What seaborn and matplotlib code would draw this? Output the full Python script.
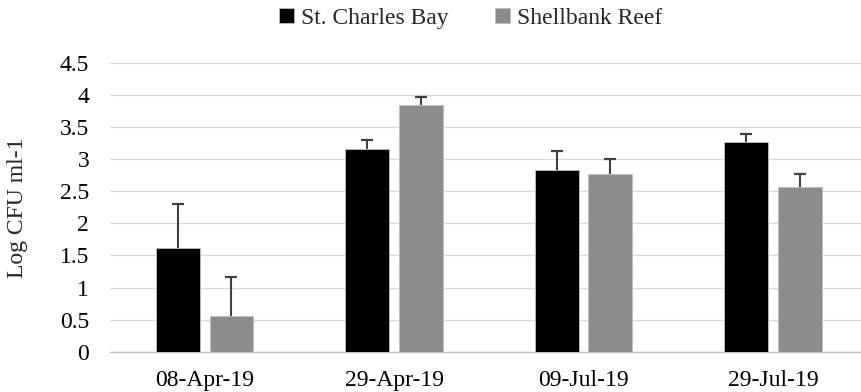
import numpy as np
import pandas as pd
import matplotlib
matplotlib.use("Agg")
import matplotlib.pyplot as plt
import seaborn as sns

# Sampling dates and site readings (log CFU per ml, with standard error)
dates = ["08-Apr-19", "29-Apr-19", "09-Jul-19", "29-Jul-19"]
sites = ["St. Charles Bay", "Shellbank Reef"]
st_charles_mean = [1.62, 3.15, 2.83, 3.27]
st_charles_err = [0.68, 0.15, 0.29, 0.12]
shellbank_mean = [0.56, 3.85, 2.77, 2.57]
shellbank_err = [0.60, 0.12, 0.23, 0.20]

df = pd.DataFrame({
    "date": dates * 2,
    "site": [sites[0]] * 4 + [sites[1]] * 4,
    "value": st_charles_mean + shellbank_mean,
    "err": st_charles_err + shellbank_err,
})

sns.set_theme(style="white")
plt.rcParams["font.family"] = ["Liberation Serif", "DejaVu Serif"]
FS = 17

fig = plt.figure(figsize=(8.62, 3.92), dpi=100)
ax = fig.add_axes([0.1276, 0.1028, 0.879, 0.737])

palette = {sites[0]: "#000000", sites[1]: "#8c8c8c"}
sns.barplot(data=df, x="date", y="value", hue="site", order=dates,
            hue_order=sites, palette=palette, errorbar=None,
            width=0.565, gap=0.18, saturation=1, ax=ax, zorder=3,
            edgecolor="#bfbfbf", linewidth=0.6)

# Upper-only error bars placed on each drawn bar, cap at the top end only
for container, site in zip(ax.containers, sites):
    sub = df[df["site"] == site].set_index("date").loc[dates]
    for patch, (_, row) in zip(container.patches, sub.iterrows()):
        cx = patch.get_x() + patch.get_width() / 2
        top = row["value"] + row["err"]
        ax.errorbar(cx, row["value"], yerr=[[0], [row["err"]]],
                    fmt="none", ecolor="#404040", elinewidth=1.5,
                    capsize=0, zorder=4)
        ax.plot([cx], [top], marker="_", markersize=8, markeredgewidth=1.6,
                color="#404040", zorder=4)

ax.set_ylim(0, 4.5)
ax.set_xlim(-0.5, 3.5)
ax.set_yticks(np.arange(0, 4.51, 0.5))
ax.set_yticklabels(["0", "0.5", "1", "1.5", "2", "2.5", "3", "3.5", "4", "4.5"])
ax.yaxis.grid(True, color="#d9d9d9", linewidth=1.0, zorder=0)
ax.set_axisbelow(True)

for s in ["top", "right", "left"]:
    ax.spines[s].set_visible(False)
ax.spines["bottom"].set_color("#bfbfbf")
ax.spines["bottom"].set_linewidth(1.0)

ax.set_xlabel("")
ax.set_ylabel("Log CFU ml-1", fontsize=FS, labelpad=23)
ax.tick_params(axis="y", length=0, labelsize=FS, pad=15)
ax.tick_params(axis="x", which="major", length=0, labelsize=FS, pad=13)
ax.set_xticks(np.arange(-0.5, 4.0, 1.0), minor=True)
ax.tick_params(axis="x", which="minor", length=6, width=1.0, color="#bfbfbf",
               direction="out")
for lab in ax.get_xticklabels() + ax.get_yticklabels():
    lab.set_color("#000000")

handles, labels = ax.get_legend_handles_labels()
ax.legend(handles, labels, loc="upper center", bbox_to_anchor=(0.546, 1.035),
          bbox_transform=fig.transFigure, ncol=2, frameon=False, fontsize=FS,
          handlelength=0.6, handleheight=0.6, handletextpad=0.3,
          columnspacing=2.0)

fig.savefig("out.png", dpi=100)
